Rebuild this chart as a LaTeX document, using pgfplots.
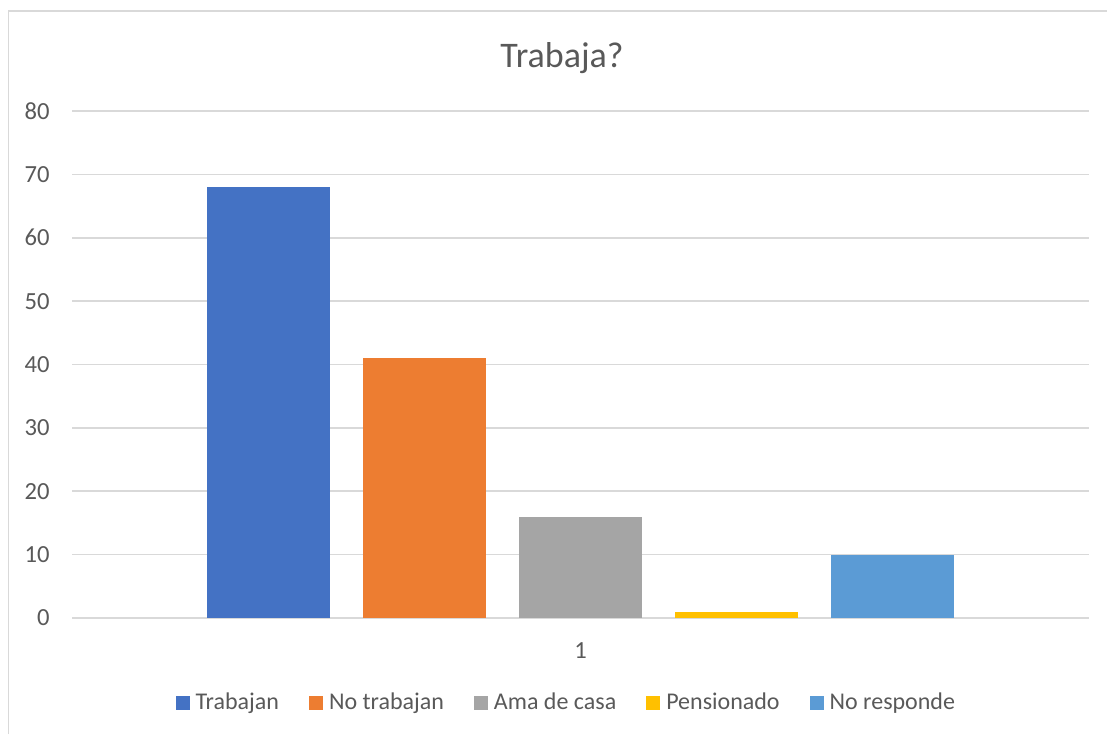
\documentclass[border=0pt]{standalone}
\usepackage{pgfplots}
\pgfplotsset{compat=1.18}
\usepackage{fontspec}
\setmainfont{Carlito}
\definecolor{cBlue}{RGB}{68,114,196}
\definecolor{cOrange}{RGB}{237,125,49}
\definecolor{cGray}{RGB}{165,165,165}
\definecolor{cGold}{RGB}{255,192,0}
\definecolor{cLBlue}{RGB}{91,155,213}
\definecolor{txt}{RGB}{89,89,89}
\definecolor{gridc}{RGB}{217,217,217}
\begin{document}
\begin{tikzpicture}
\path[use as bounding box] (0,0) rectangle (553.5pt,367pt);
\draw[gridc, line width=0.8pt] (4.2pt,0) -- (4.2pt,361.5pt) -- (553.5pt,361.5pt);
\node[txt, font=\fontsize{18}{20}\selectfont] at (281pt,338pt) {Trabaja?};
\begin{axis}[
  at={(36pt,58pt)}, anchor=south west,
  width=508.5pt, height=253.5pt, scale only axis,
  xmin=-3.26, xmax=3.26, ymin=0, ymax=80,
  ytick={0,10,...,80},
  xtick={0}, xticklabels={1},
  axis line style={draw=none},
  major tick length=0pt,
  xmajorgrids=false, ymajorgrids=true,
  major grid style={draw=gridc, line width=0.8pt},
  tick label style={txt, font=\fontsize{12.3}{14}\selectfont},
  /pgf/number format/assume math mode=true,
  yticklabel style={anchor=east, inner sep=0pt, xshift=-11pt},
  xticklabel style={anchor=north, inner sep=0pt, yshift=-12pt},
  legend style={at={(0.487,-0.1677)}, anchor=center, draw=none, fill=none,
    legend columns=-1, font=\fontsize{12}{14}\selectfont, text=txt,
    /tikz/every even column/.append style={column sep=13pt},
    /tikz/every odd column/.append style={column sep=1pt},
    inner sep=0pt},
  legsq/.style={legend image code/.code={\fill[##1] (0pt,-3.5pt) rectangle (7pt,3.5pt);}},
]
\addplot[ybar, bar width=0.788, bar shift=0pt, fill=cBlue, draw=none, legsq] coordinates {(-2,68)};
\addlegendentry{Trabajan}
\addplot[ybar, bar width=0.788, bar shift=0pt, fill=cOrange, draw=none, legsq] coordinates {(-1,41)};
\addlegendentry{No trabajan}
\addplot[ybar, bar width=0.788, bar shift=0pt, fill=cGray, draw=none, legsq] coordinates {(0,16)};
\addlegendentry{Ama de casa}
\addplot[ybar, bar width=0.788, bar shift=0pt, fill=cGold, draw=none, legsq] coordinates {(1,1)};
\addlegendentry{Pensionado}
\addplot[ybar, bar width=0.788, bar shift=0pt, fill=cLBlue, draw=none, legsq] coordinates {(2,10)};
\addlegendentry{No responde}
\end{axis}
\end{tikzpicture}
\end{document}
